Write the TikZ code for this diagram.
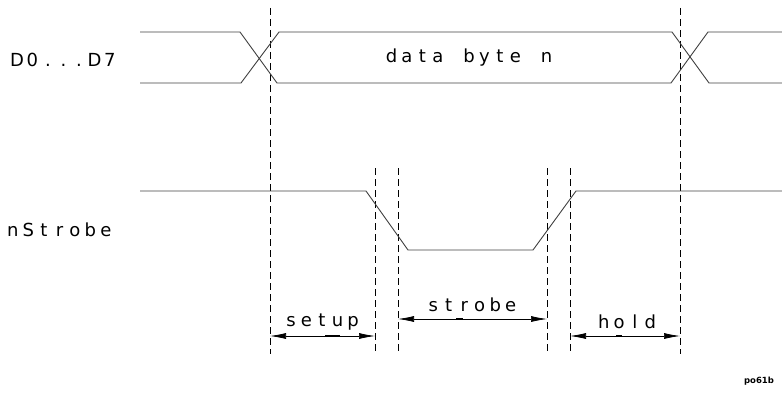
\documentclass[tikz,border=0pt]{standalone}
\usepackage{fontspec}
\setmainfont{DejaVu Sans}
\usetikzlibrary{arrows.meta}
\makeatletter
\def\mono#1{\mono@a#1\relax}
\def\mono@a#1{\ifx\relax#1\else\makebox[15.5pt]{#1}\expandafter\mono@a\fi}
\makeatother
\tikzset{
  sig/.style={draw=black!75, line width=0.9pt, line join=miter},
  guide/.style={draw=black, line width=0.8pt, dash pattern=on 7pt off 4pt},
  dim/.style={draw=black, line width=0.7pt, {Latex[length=16pt,width=6pt]}-{Latex[length=16pt,width=6pt]}},
  dimmark/.style={draw=black, line width=1.8pt},
  lbl/.style={inner sep=0pt, font=\fontsize{18}{20}\selectfont},
  tag/.style={inner sep=0pt, font=\fontsize{8.5}{10}\selectfont\bfseries}
}
\begin{document}
\begin{tikzpicture}[x=1pt, y=-1pt]
\useasboundingbox (0,0) rectangle (782,396);
% guide coordinates
\coordinate (g1t) at (270,8);   \coordinate (g1b) at (270,354);
\coordinate (g2t) at (375,168); \coordinate (g2b) at (375,354);
\coordinate (g3t) at (398,168); \coordinate (g3b) at (398,354);
\coordinate (g4t) at (547,168); \coordinate (g4b) at (547,354);
\coordinate (g5t) at (570,168); \coordinate (g5b) at (570,354);
\coordinate (g6t) at (680,8);   \coordinate (g6b) at (680,354);
\foreach \i in {1,...,6} { \draw[guide] (g\i t) -- (g\i b); }
% data bus
\draw[sig] (140,32) -- (240,32) -- (277,83) -- (671,83) -- (708,32) -- (782,32);
\draw[sig] (140,83) -- (241,83) -- (279,32) -- (672,32) -- (709,83) -- (782,83);
% strobe
\draw[sig] (140,191) -- (366,191) -- (408,250) -- (533,250) -- (576,191) -- (782,191);
% labels
\node[lbl, anchor=west] (lD) at (9,59.5) {\mono{D0...D7}};
\node[lbl] (lData) at (469,58) {\mono{data~byte~n}};
\node[lbl, anchor=west] (lS) at (5,229.5) {\mono{nStrobe}};
% dimension arrows
\coordinate (a1l) at (270,336); \coordinate (a1r) at (375,336);
\coordinate (a2l) at (398,319); \coordinate (a2r) at (547,319);
\coordinate (a3l) at (570,336); \coordinate (a3r) at (680,336);
\draw[dim] (a1l) -- (a1r);
\draw[dim] (a2l) -- (a2r);
\draw[dim] (a3l) -- (a3r);
\draw[dimmark] (325,336) -- (340,336);
\draw[dimmark] (456,319) -- (463,319);
\draw[dimmark] (616,336) -- (622,336);
\node[lbl] (lSetup) at (322,322) {\mono{setup}};
\node[lbl] (lStrobe) at (472,305) {\mono{strobe}};
\node[lbl] (lHold) at (627,322) {\mono{hold}};
\node[tag] (tg) at (759,381) {po61b};
\end{tikzpicture}
\end{document}
